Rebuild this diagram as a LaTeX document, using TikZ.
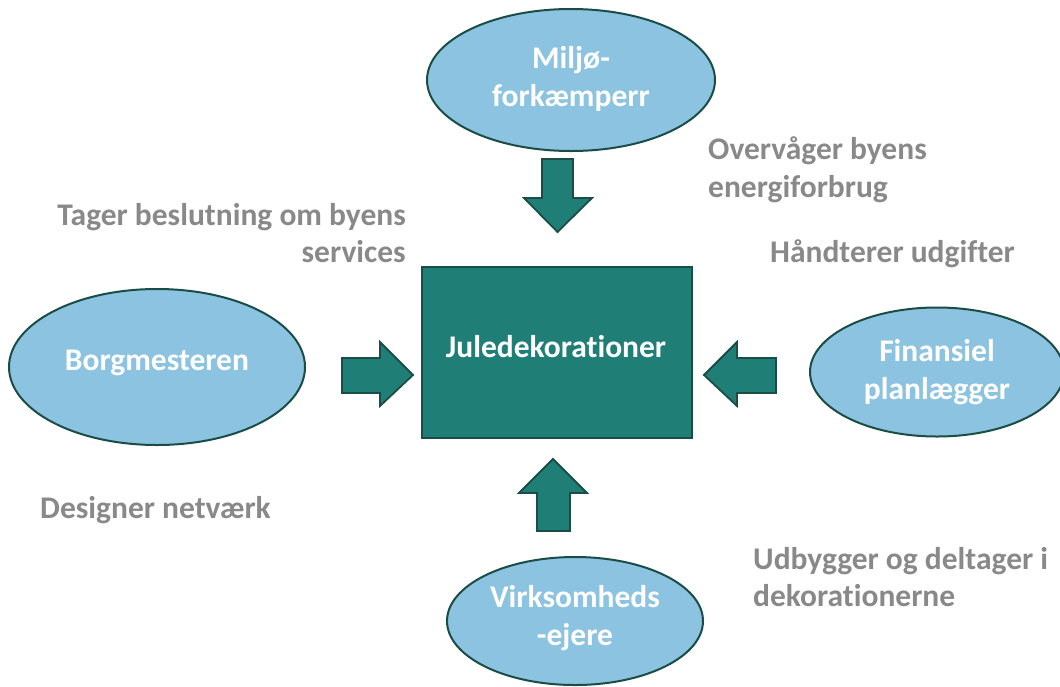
\documentclass[tikz,border=0pt]{standalone}
\usepackage{fontspec}
\setmainfont{Carlito}[Ligatures=NoCommon]
\usetikzlibrary{shapes.geometric}
\definecolor{tealfill}{HTML}{1F7F76}
\definecolor{darkline}{HTML}{1A4D45}
\definecolor{lightblue}{HTML}{8BC3E0}
\definecolor{graytext}{HTML}{898989}
\begin{document}
\begin{tikzpicture}[x=1pt,y=-1pt,
  ell/.style={ellipse, draw=darkline, line width=2pt, fill=lightblue, inner sep=0pt},
  elltext/.style={text=white, font=\fontsize{31.5}{38.5}\selectfont\bfseries, align=center, inner sep=0pt},
  box/.style={rectangle, draw=darkline, line width=2pt, fill=tealfill, inner sep=0pt},
  boxtext/.style={text=white, font=\fontsize{31.5}{38.5}\selectfont\bfseries, inner sep=0pt},
  lbl/.style={text=graytext, font=\fontsize{31.5}{37.5}\selectfont\bfseries, inner sep=0pt},
  blockarrow/.style={fill=tealfill, draw=darkline, line width=1.8pt, line join=miter}]
\useasboundingbox (0,0) rectangle (1060,686);
% nodes
\node[ell, minimum width=288pt, minimum height=142pt] (env) at (571,80) {};
\node[elltext] (envlabel) at (571,79) {Miljø-\\forkæmperr};
\node[ell, minimum width=296pt, minimum height=156pt] (mayor) at (157,367) {};
\node[elltext] (mayorlabel) at (157,363) {Borgmesteren};
\node[ell, minimum width=254pt, minimum height=129pt] (fin) at (937,372) {};
\node[elltext] (finlabel) at (937,372) {Finansiel\\planlægger};
\node[ell, minimum width=256pt, minimum height=128pt] (biz) at (575,621) {};
\node[elltext] (bizlabel) at (575,618) {Virksomheds\\-ejere};
\node[box, minimum width=270pt, minimum height=171pt] (center) at (557,352.5) {};
\node[boxtext] (centerlabel) at (556,347) {Juledekorationer};
% block arrows
\draw[blockarrow] (542,159) -- (573,159) -- (573,198) -- (592,198) -- (557.5,232) -- (524,198) -- (542,198) -- cycle;
\draw[blockarrow] (537,531) -- (570,531) -- (570,493) -- (587,493) -- (553,459) -- (519,493) -- (537,493) -- cycle;
\draw[blockarrow] (342,358) -- (380,358) -- (380,342) -- (413,375) -- (380,406) -- (380,393) -- (342,393) -- cycle;
\draw[blockarrow] (776,358) -- (737,358) -- (737,342) -- (704,375) -- (737,406) -- (737,393) -- (776,393) -- cycle;
% labels
\node[lbl, align=left, anchor=west] (l1) at (708,170) {Overvåger byens\\energiforbrug};
\node[lbl, align=right, anchor=east] (l2) at (406,233) {Tager beslutning om byens\\services};
\node[lbl, anchor=west] (l3) at (770,254) {Håndterer udgifter};
\node[lbl, anchor=west] (l4) at (40,510) {Designer netværk};
\node[lbl, align=left, anchor=west] (l5) at (753,577) {Udbygger og deltager i\\dekorationerne};
\end{tikzpicture}
\end{document}
